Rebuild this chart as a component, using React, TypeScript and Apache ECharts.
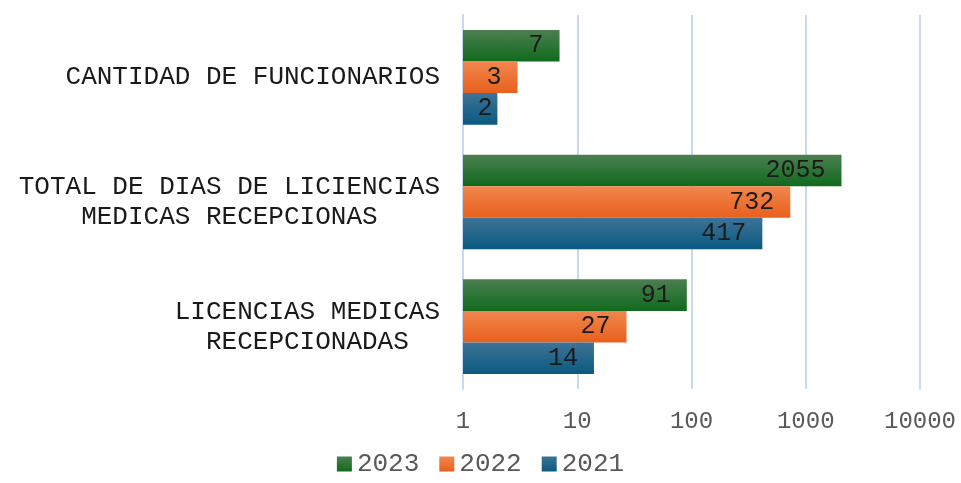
import React, { useEffect, useRef } from "react";
import * as echarts from "echarts";

const categories = [
  "LICENCIAS MEDICAS\nRECEPCIONADAS",
  "TOTAL DE DIAS DE LICIENCIAS\nMEDICAS RECEPCIONAS",
  "CANTIDAD DE FUNCIONARIOS",
];
const seriesNames = ["2023", "2022", "2021"];
const values2023 = [91, 2055, 7];
const values2022 = [27, 732, 3];
const values2021 = [14, 417, 2];
const tickValues = [1, 10, 100, 1000, 10000];

const FONT = "'Courier New', 'Liberation Mono', monospace";

const gradients: Record<string, [string, string]> = {
  "2021": ["#3e7397", "#0a5980"],
  "2022": ["#f1864f", "#e8601c"],
  "2023": ["#4c7f51", "#106a1c"],
};

export default function App() {
  const ref = useRef<HTMLDivElement>(null);
  useEffect(() => {
    if (!ref.current) return;
    const chart = echarts.init(ref.current, null, { renderer: "svg" });
    const allValues = [values2023, values2022, values2021];
    const series = seriesNames.map((name, i) => {
      const [c1, c2] = gradients[name];
      return {
        name,
        type: "bar",
        barGap: "0%",
        barCategoryGap: "24%",
        itemStyle: {
          color: new echarts.graphic.LinearGradient(0, 0, 0, 1, [
            { offset: 0, color: c1 },
            { offset: 1, color: c2 },
          ]),
        },
        label: {
          show: true,
          position: "insideRight",
          distance: 16,
          color: "#1a1a1a",
          fontFamily: FONT,
          fontSize: 25,
        },
        data: allValues[i].map((v) =>
          v < 3 ? { value: v, label: { distance: 5 } } : v
        ),
      };
    });
    chart.setOption({
      animation: false,
      grid: { left: 463, right: 41, top: 15, bottom: 94, containLabel: false },
      legend: {
        data: ["2023", "2022", "2021"],
        bottom: 1,
        left: "center",
        icon: "rect",
        itemWidth: 15,
        itemHeight: 15,
        itemGap: 20,
        textStyle: {
          fontFamily: FONT,
          fontSize: 26,
          lineHeight: 20,
          color: "#595959",
        },
      },
      xAxis: {
        type: "log",
        logBase: 10,
        min: 1,
        max: 10000,
        axisLine: { show: false },
        axisTick: { show: false },
        splitLine: { show: true, lineStyle: { color: "#c6d9f0", width: 2 } },
        axisLabel: {
          fontFamily: FONT,
          fontSize: 24,
          color: "#595959",
          margin: 20,
          formatter: (v: number) => {
            const t = tickValues.find((x) => Math.abs(x - v) < 1e-6 * x);
            return t !== undefined ? String(t) : "";
          },
        },
      },
      yAxis: {
        type: "category",
        data: categories,
        axisLine: { show: true, lineStyle: { color: "#c6d9f0", width: 2 } },
        axisTick: { show: false },
        axisLabel: {
          margin: 23,
          align: "right",
          lineHeight: 30,
          formatter: (v: string) =>
            v
              .split("\n")
              .map((l) => `{a|${l}}`)
              .join("\n"),
          rich: {
            a: {
              align: "center",
              fontFamily: FONT,
              fontSize: 26,
              color: "#1a1a1a",
              lineHeight: 30,
            },
          },
        },
      },
      series,
    });
    return () => chart.dispose();
  }, []);
  return (
    <div
      ref={ref}
      style={{ position: "fixed", left: 0, top: 0, width: 961, height: 483 }}
    />
  );
}
